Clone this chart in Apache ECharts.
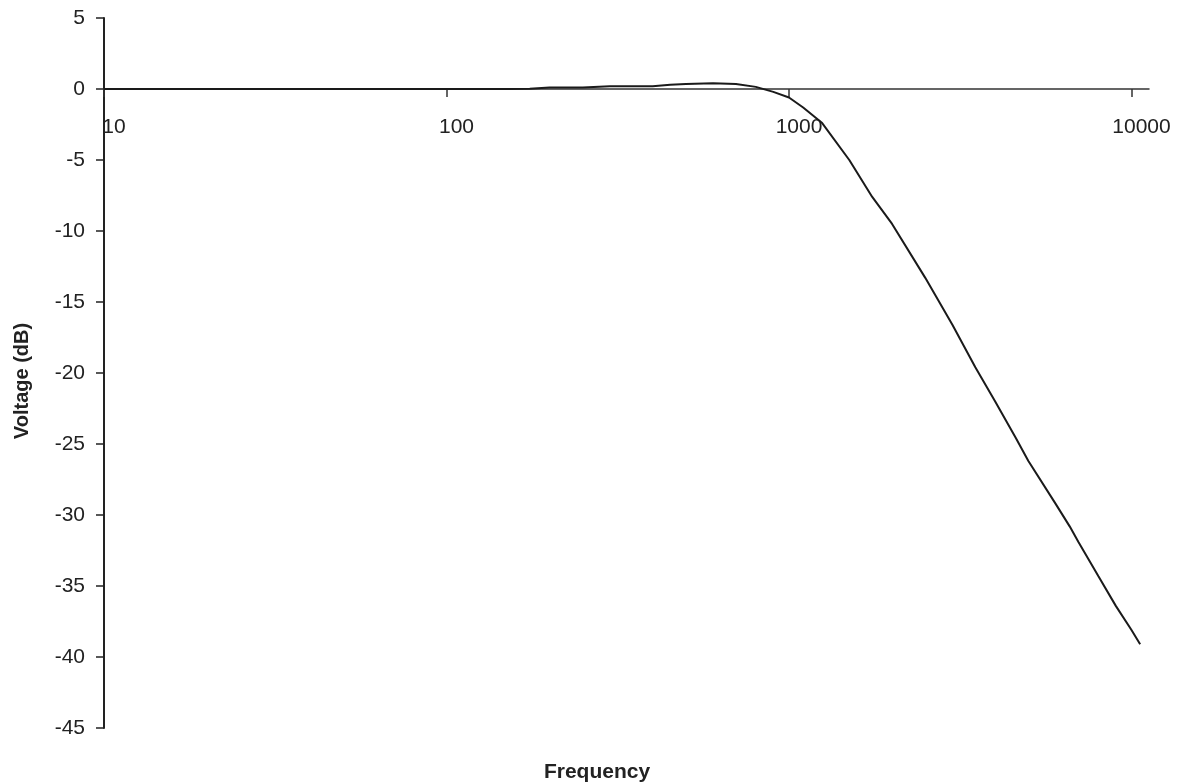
<!DOCTYPE html>
<html>
<head>
<meta charset="utf-8">
<script src="https://cdn.jsdelivr.net/npm/echarts@6/dist/echarts.min.js"></script>
<style>
html,body{margin:0;padding:0;background:#fff;}
#chart{width:1183px;height:783px;}
</style>
</head>
<body>
<div id="chart"></div>
<script>
const frequency = [10, 20, 50, 100, 150, 175, 200, 250, 300, 400, 450, 500, 600, 700, 800, 900, 1000, 1100, 1250, 1500, 1750, 2000, 2500, 3000, 3500, 4000, 4600, 5000, 6000, 6600, 7000, 8000, 9000, 10000, 10600];
const voltage = [0, 0, 0, 0, 0, 0.02, 0.1, 0.1, 0.2, 0.2, 0.3, 0.35, 0.4, 0.35, 0.15, -0.2, -0.6, -1.3, -2.4, -5.0, -7.6, -9.5, -13.3, -16.6, -19.6, -22.0, -24.6, -26.2, -29.2, -30.8, -31.9, -34.3, -36.4, -38.1, -39.1];
const yTicks = { min: -45, max: 5, interval: 5 };
const xRange = { min: 10, max: 11250 };

const chart = echarts.init(document.getElementById('chart'));
const seriesData = frequency.map((f, i) => [f, voltage[i]]);
const font = 'Liberation Sans, Arial, sans-serif';

chart.setOption({
  animation: false,
  backgroundColor: '#ffffff',
  title: {
    text: 'Frequency',
    left: 592,
    top: 757,
    textAlign: 'center',
    textStyle: { fontFamily: font, fontSize: 21, fontWeight: 'bold', color: '#222' }
  },
  grid: { left: 104, right: 34, top: 18, bottom: 55 },
  xAxis: {
    type: 'log',
    logBase: 10,
    min: xRange.min,
    max: xRange.max,
    offset: -639,
    axisLine: { onZero: false, lineStyle: { color: '#333', width: 1.5 } },
    axisTick: { show: true, length: 8, lineStyle: { color: '#333', width: 1.5 } },
    minorTick: { show: false },
    splitLine: { show: false },
    axisLabel: {
      margin: 28,
      fontFamily: font,
      fontSize: 21,
      color: '#222',
      padding: [0, 0, 0, 20],
      formatter: function (v) { return String(Math.round(v)); }
    }
  },
  yAxis: {
    type: 'value',
    min: yTicks.min,
    max: yTicks.max,
    interval: yTicks.interval,
    name: 'Voltage (dB)',
    nameLocation: 'middle',
    nameGap: 72,
    nameTextStyle: { fontFamily: font, fontSize: 20, fontWeight: 'bold', color: '#222', padding: [0, 16, 0, 0] },
    axisLine: { show: true, lineStyle: { color: '#222', width: 2 } },
    axisTick: { show: true, length: 8, lineStyle: { color: '#222', width: 1.5 } },
    splitLine: { show: false },
    axisLabel: { margin: 19, fontFamily: font, fontSize: 21, color: '#222' }
  },
  series: [{
    type: 'line',
    data: seriesData,
    showSymbol: false,
    smooth: false,
    lineStyle: { color: '#1a1a1a', width: 2 }
  }]
});
</script>
</body>
</html>
